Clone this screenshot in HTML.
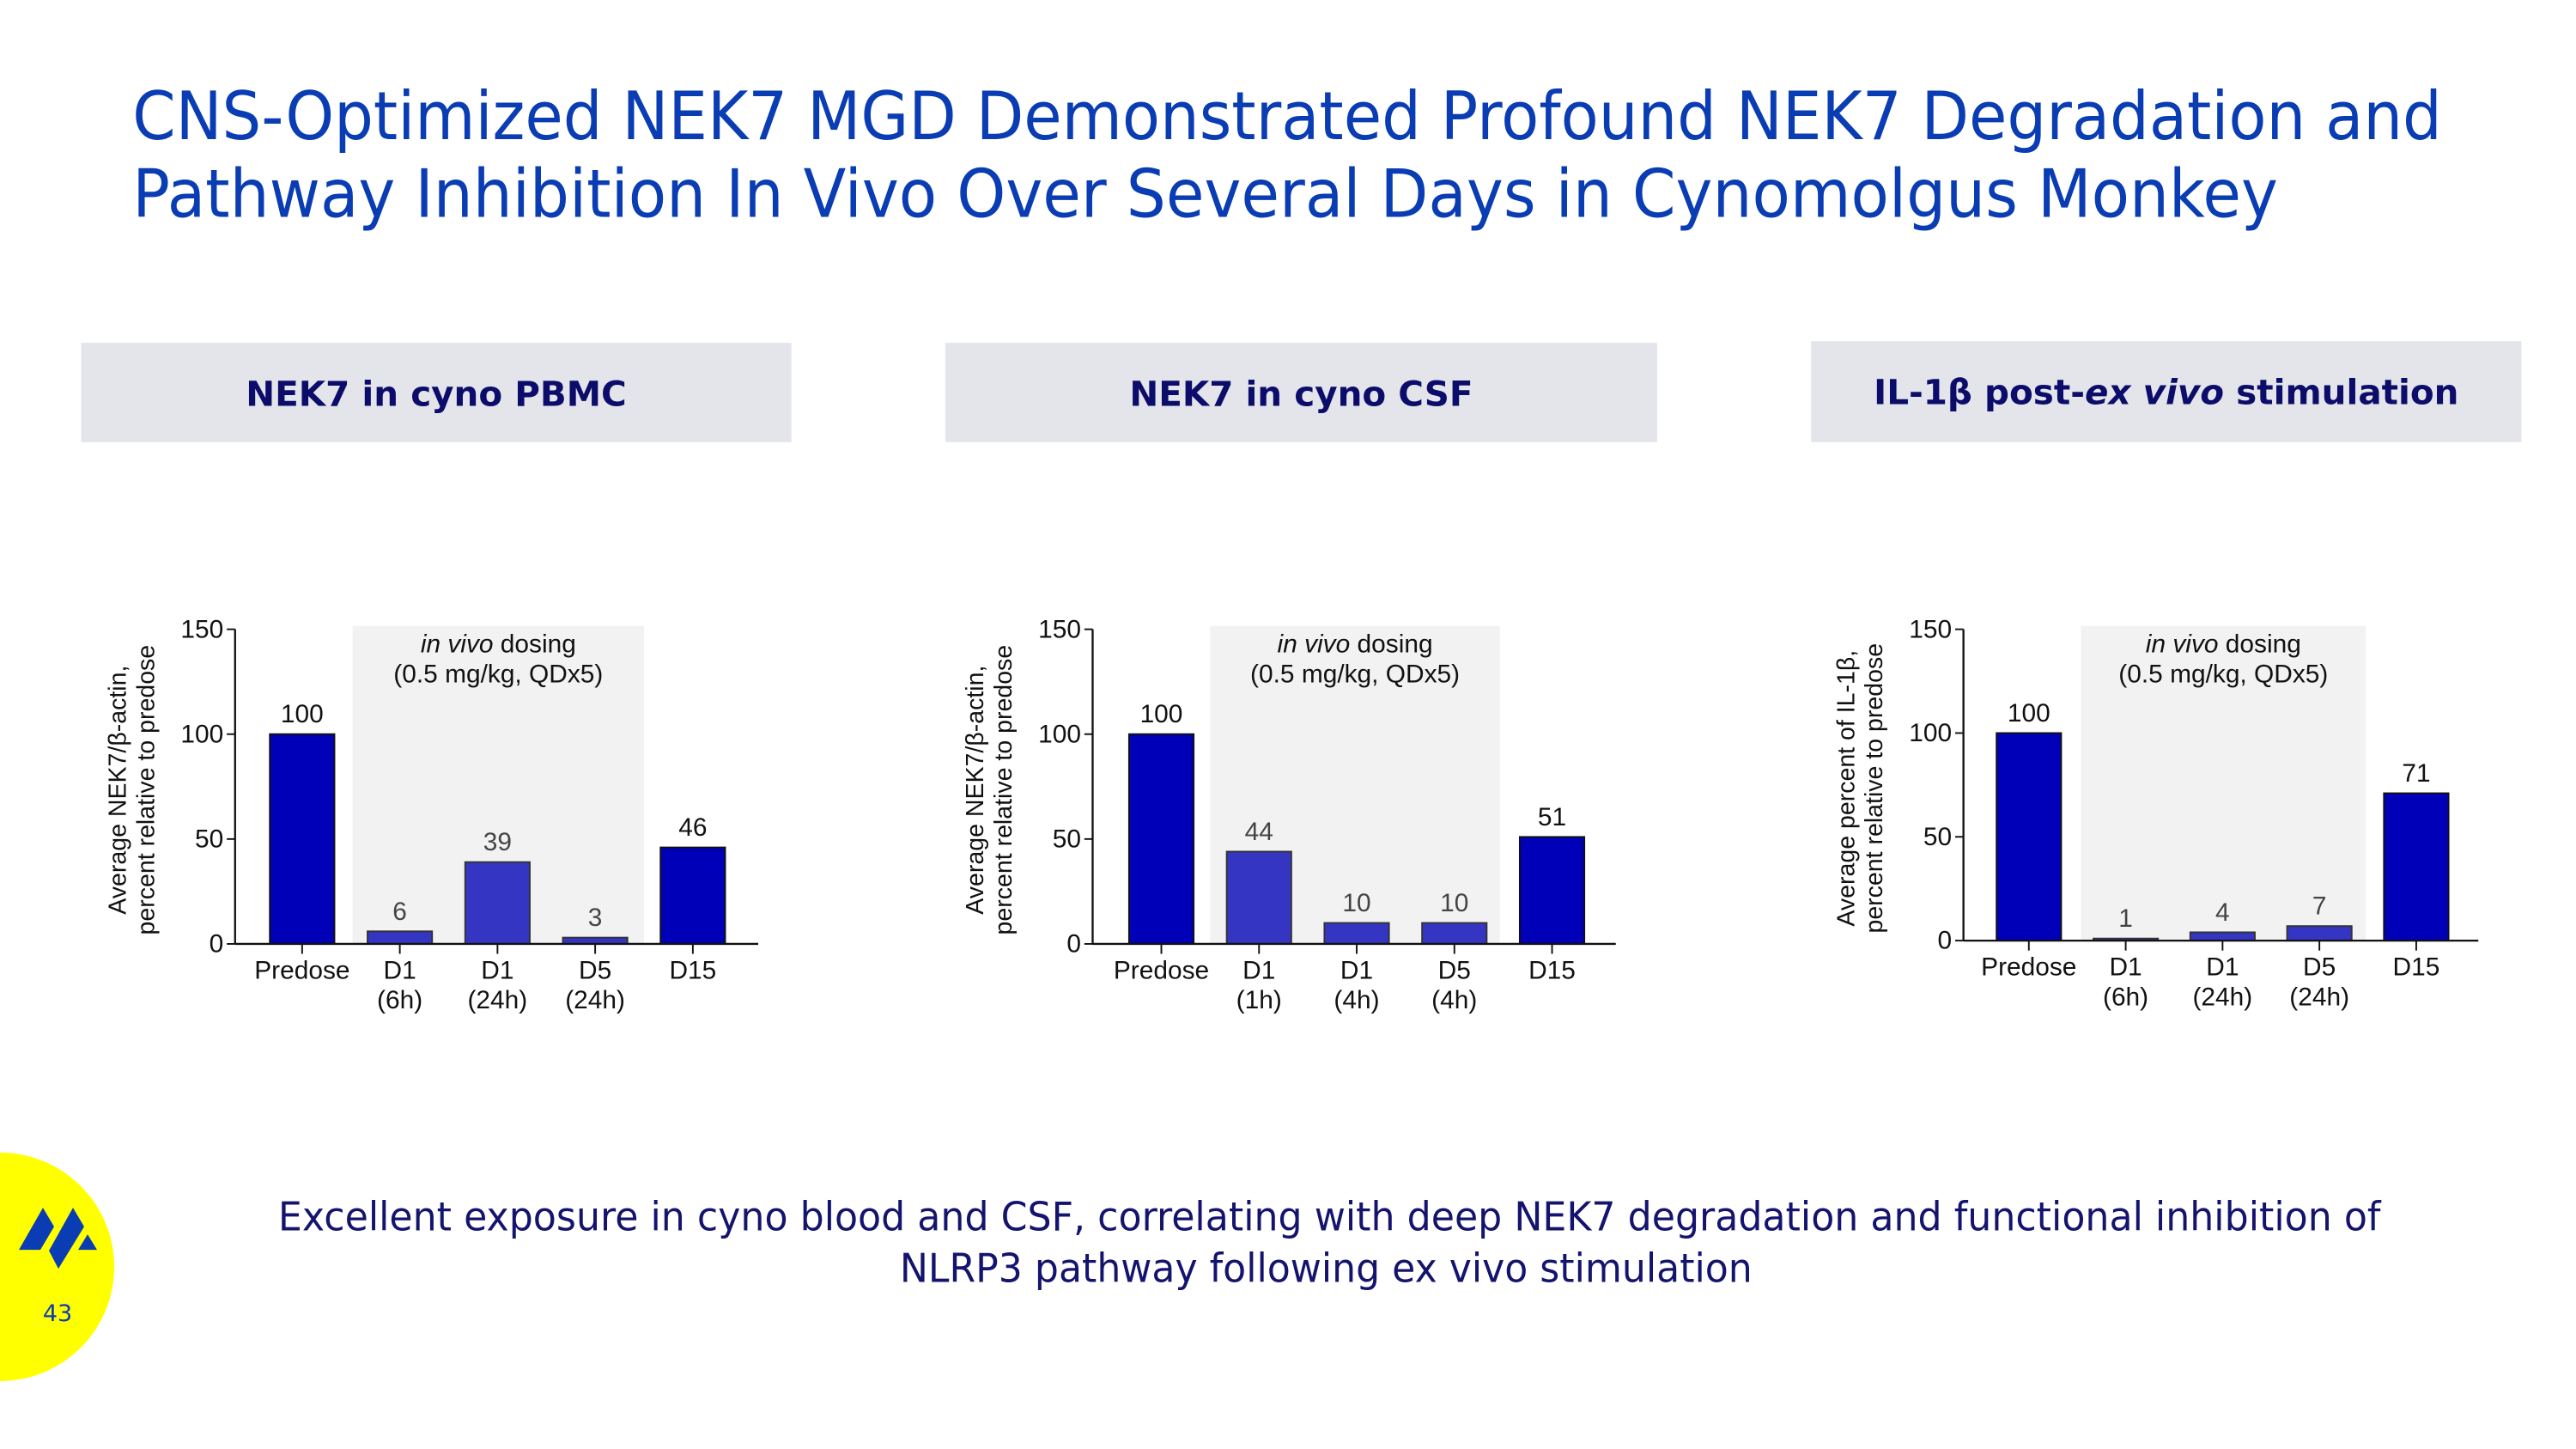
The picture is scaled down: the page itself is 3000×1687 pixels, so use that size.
<!DOCTYPE html>
<html><head><meta charset="utf-8">
<style>
html,body{margin:0;padding:0;background:#fff;width:3000px;height:1687px;overflow:hidden}
svg{display:block}
.ttl{font-family:"DejaVu Sans",sans-serif;fill:#0a3cb4;font-size:40px}
.hdr{font-family:"DejaVu Sans",sans-serif;font-weight:bold;fill:#0c0c6a;font-size:21px}
.ch{font-family:"Liberation Sans",sans-serif;font-size:15.5px;fill:#111}
.yt{font-size:14.8px}
.foot{font-family:"DejaVu Sans",sans-serif;fill:#14146e;font-size:24px}
</style></head>
<body>
<svg id="s" width="3000" height="1687" viewBox="0 0 1556 875" preserveAspectRatio="none" xmlns="http://www.w3.org/2000/svg">
<g>
<text class="ttl" x="80" y="84" textLength="1395" lengthAdjust="spacingAndGlyphs">CNS-Optimized NEK7 MGD Demonstrated Profound NEK7 Degradation and</text>
<text class="ttl" x="80" y="131" textLength="1296" lengthAdjust="spacingAndGlyphs">Pathway Inhibition In Vivo Over Several Days in Cynomolgus Monkey</text>
</g>
<g><rect x="49" y="207" width="429" height="60" fill="#e4e5ea"/><text class="hdr" x="263.5" y="245" text-anchor="middle">NEK7 in cyno PBMC</text></g>
<g><rect x="571" y="207" width="430" height="60" fill="#e4e5ea"/><text class="hdr" x="786" y="245" text-anchor="middle">NEK7 in cyno CSF</text></g>
<g><rect x="1094" y="206" width="429" height="61" fill="#e4e5ea"/><text class="hdr" x="1308.5" y="244" text-anchor="middle">IL-1β post-<tspan font-style="italic">ex vivo</tspan> stimulation</text></g>
<g id="charts"></g>
<g>
<text class="foot" x="803" y="743" text-anchor="middle" textLength="1270" lengthAdjust="spacingAndGlyphs">Excellent exposure in cyno blood and CSF, correlating with deep NEK7 degradation and functional inhibition of</text>
<text class="foot" x="801" y="774" text-anchor="middle" textLength="515" lengthAdjust="spacingAndGlyphs">NLRP3 pathway following ex vivo stimulation</text>
</g>
<g>
<circle cx="0" cy="765" r="69" fill="#ffff00"/>
<g transform="scale(0.5187)" fill="#0a3cb4">
<polygon points="22,1455 50,1406 63,1428 47,1455"/>
<polygon points="57,1456 85,1406 98,1428 68,1477"/>
<polygon points="91,1455 102,1437 113,1455"/>
<text x="67" y="1538" text-anchor="middle" font-family="DejaVu Sans,sans-serif" font-size="27">43</text>
</g>
</g>
</svg>
<script>
const categoriesPbmc = ["Predose","D1|(6h)","D1|(24h)","D5|(24h)","D15"];
const valuesPbmc = [100, 6, 39, 3, 46];
const categoriesCsf = ["Predose","D1|(1h)","D1|(4h)","D5|(4h)","D15"];
const valuesCsf = [100, 44, 10, 10, 51];
const categoriesIl = ["Predose","D1|(6h)","D1|(24h)","D5|(24h)","D15"];
const valuesIl = [100, 1, 4, 7, 71];
const yTicks = [0, 50, 100, 150];
const yMax = 150;

const NS = "http://www.w3.org/2000/svg";
const root = document.getElementById('charts');
function mk(tag, attrs, parent, txt){
  const e = document.createElementNS(NS, tag);
  for (const k in attrs) e.setAttribute(k, attrs[k]);
  if (txt !== undefined) e.textContent = txt;
  parent.appendChild(e);
  return e;
}
const configs = [
  {id:'pbmc', cats:categoriesPbmc, vals:valuesPbmc, ax:142, y0:570, yt:380, b0:163, pitch:59, bw:39, sh:[213,389], end:458, t1:"Average NEK7/β-actin,", t2:"percent relative to predose"},
  {id:'csf', cats:categoriesCsf, vals:valuesCsf, ax:660, y0:570, yt:380, b0:682, pitch:59, bw:39, sh:[731,906], end:976, t1:"Average NEK7/β-actin,", t2:"percent relative to predose"},
  {id:'il1b', cats:categoriesIl, vals:valuesIl, ax:1186, y0:568, yt:380, b0:1206, pitch:58.5, bw:39, sh:[1257,1429], end:1497, t1:"Average percent of IL-1β,", t2:"percent relative to predose"}
];
configs.forEach(c => {
  const g = mk('g', {class:'ch'}, root);
  
  
  const y = v => c.y0 - (v / yMax) * (c.y0 - c.yt);
  const xc = i => c.b0 + c.bw/2 + i * c.pitch;
  const shade = mk('rect', {x:c.sh[0], y:c.yt-2, width:c.sh[1]-c.sh[0], height:c.y0-c.yt+2, fill:'#f2f2f2'}, g);
  
  
  const cx = (c.sh[0]+c.sh[1])/2;
  const ann = mk('text', {x:cx, y:c.yt+14, 'text-anchor':'middle'}, g);
  
  
  mk('tspan', {'font-style':'italic'}, ann, 'in vivo');
  mk('tspan', {}, ann, ' dosing');
  mk('text', {x:cx, y:c.yt+32, 'text-anchor':'middle'}, g, '(0.5 mg/kg, QDx5)');
  c.vals.forEach((v, i) => {
    const inner = i > 0 && i < c.vals.length - 1;
    const b = mk('rect', {x:xc(i)-c.bw/2, y:y(v), width:c.bw, height:c.y0-y(v), fill: inner ? '#3535c4' : '#0000b8', stroke: inner ? '#333' : '#111', 'stroke-width':1}, g);
    
    
    const l = mk('text', {x:xc(i), y:y(v)-7, 'text-anchor':'middle', fill: inner ? '#444' : '#111'}, g, String(v));
    
    
    mk('line', {x1:xc(i), x2:xc(i), y1:c.y0, y2:c.y0+6, stroke:'#111', 'stroke-width':1}, g);
    const parts = c.cats[i].split('|');
    parts.forEach((p, k) => {
      const t = mk('text', {x:xc(i), y:c.y0+21+k*18, 'text-anchor':'middle'}, g, p);
      
      
    });
  });
  mk('line', {x1:c.ax, x2:c.ax, y1:c.yt, y2:c.y0, stroke:'#111', 'stroke-width':1.2}, g);
  mk('line', {x1:c.ax, x2:c.end, y1:c.y0, y2:c.y0, stroke:'#111', 'stroke-width':1.2}, g);
  yTicks.forEach(t => {
    mk('line', {x1:c.ax-5, x2:c.ax, y1:y(t), y2:y(t), stroke:'#111', 'stroke-width':1}, g);
    const tl = mk('text', {x:c.ax-7, y:y(t)+5, 'text-anchor':'end'}, g, String(t));
    
    
  });
  const my = (c.yt + c.y0) / 2 + 2;
  const yt = mk('text', {class:'yt', transform:`translate(${c.ax-66},${my}) rotate(-90)`, 'text-anchor':'middle'}, g);
  
  
  mk('tspan', {x:0, y:0}, yt, c.t1);
  mk('tspan', {x:0, y:17}, yt, c.t2);
});
</script>
</body></html>
